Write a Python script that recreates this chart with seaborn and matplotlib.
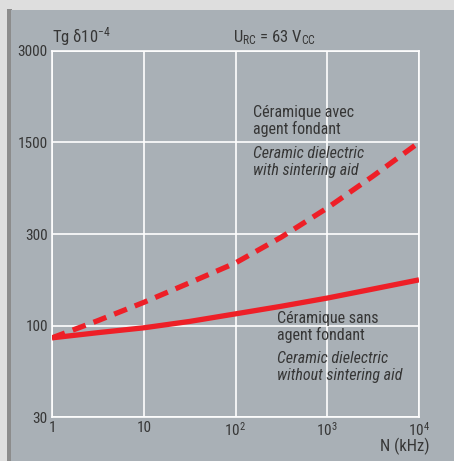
import matplotlib
matplotlib.use("Agg")
import matplotlib.pyplot as plt
from matplotlib.patches import Rectangle
import numpy as np
import pandas as pd
import seaborn as sns

# frequency (kHz) and Tg delta (x1e-4)
freq = [1, 3.16, 10, 31.6, 100, 316, 1000, 3162, 10000]
with_aid = [85, 106, 132, 167, 212, 289, 474, 832, 1500]
without_aid = [85, 91, 97, 105, 115, 126, 139, 155, 173]

y_ticks = [30, 100, 300, 1500, 3000]
x_ticks = [1, 10, 100, 1000, 10000]
x_labels = ["1", "10", "10$^2$", "10$^3$", "10$^4$"]

font = "Roboto Condensed"
plt.rcParams["font.family"] = [font, "DejaVu Sans"]
plt.rcParams["mathtext.fontset"] = "custom"
plt.rcParams["mathtext.rm"] = font
plt.rcParams["mathtext.it"] = font + ":italic"

bg = "#a9b0b6"
red = "#ee1f27"
txt = "#363636"

# the y axis has evenly spaced labels that are not a true log scale
tick_pos = np.arange(len(y_ticks))
tick_log = np.log10(y_ticks)


def fwd(v):
    v = np.clip(np.asarray(v, dtype=float), 1e-6, None)
    return np.interp(np.log10(v), tick_log, tick_pos)


def inv(p):
    return 10 ** np.interp(p, tick_pos, tick_log)


df = pd.DataFrame({"freq": freq, "with": with_aid, "without": without_aid})

fig = plt.figure(figsize=(4.54, 4.61), dpi=100)
fig.patch.set_facecolor("#dedede")
fig.patches.append(Rectangle((7 / 454, 0), 5 / 454, 1 - 9 / 461, transform=fig.transFigure,
                             facecolor="#8c8c8c", edgecolor="none", zorder=-2))
fig.patches.append(Rectangle((11 / 454, 0), 1, 1 - 10 / 461, transform=fig.transFigure,
                             facecolor=bg, edgecolor="none", zorder=-1))

ax = fig.add_axes([52 / 454, 1 - 417 / 461, 367 / 454, 366 / 461])
ax.set_facecolor(bg)
ax.set_xscale("log")
ax.set_yscale("function", functions=(fwd, inv))

sns.lineplot(data=df, x="freq", y="without", ax=ax, color=red, linewidth=3.8)
sns.lineplot(data=df, x="freq", y="with", ax=ax, color=red, linewidth=3.8)
ax.lines[-1].set_dashes((2.6, 1.6))
for ln in ax.lines:
    ln.set_solid_capstyle("butt")
    ln.set_dash_capstyle("butt")
    ln.set_solid_joinstyle("round")
    ln.set_zorder(3)

ax.set_xlim(1, 10000)
ax.set_ylim(30, 3000)
ax.set_xticks(x_ticks)
ax.set_xticklabels(x_labels)
ax.xaxis.set_minor_locator(matplotlib.ticker.NullLocator())
ax.set_yticks(y_ticks)
ax.set_yticklabels([str(v) for v in y_ticks])
ax.yaxis.set_minor_locator(matplotlib.ticker.NullLocator())
ax.tick_params(length=0, labelsize=11, colors=txt, pad=3)
ax.grid(True, color="white", linewidth=1.2)
for s in ax.spines.values():
    s.set_color("white")
    s.set_linewidth(1.2)
ax.set_xlabel("")
ax.set_ylabel("")

fig.text(52 / 454, 1 - 37 / 461, "Tg δ10$^{-4}$", fontsize=12, color=txt, va="center")
fig.text(274 / 454, 1 - 38 / 461, "U$_{\\mathrm{RC}}$ = 63 V$_{\\mathrm{CC}}$",
         fontsize=12, color=txt, ha="center", va="center")
fig.text(430 / 454, 1 - 446 / 461, "N (kHz)", fontsize=12, color=txt,
         ha="right", va="center")

fig.text(253 / 454, 1 - 121 / 461, "Céramique avec\nagent fondant", fontsize=11.5,
         color=txt, va="center", linespacing=1.1)
fig.text(253 / 454, 1 - 162 / 461, "Ceramic dielectric\nwith sintering aid", fontsize=11.5,
         color=txt, va="center", style="italic", linespacing=1.1)
fig.text(277 / 454, 1 - 327 / 461, "Céramique sans\nagent fondant", fontsize=11.5,
         color=txt, va="center", linespacing=1.1)
fig.text(277 / 454, 1 - 367 / 461, "Ceramic dielectric\nwithout sintering aid", fontsize=11.5,
         color=txt, va="center", style="italic", linespacing=1.1)

fig.savefig("out.png", dpi=100, facecolor=fig.get_facecolor())
